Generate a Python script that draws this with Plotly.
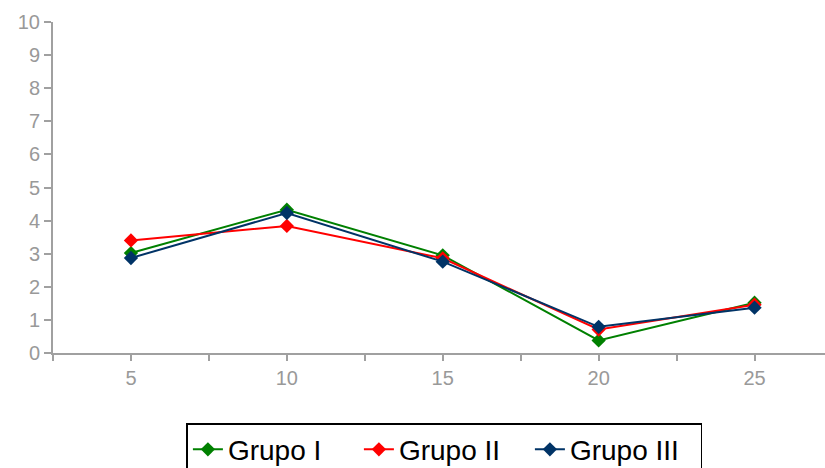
import plotly.graph_objects as go

categories = [5, 10, 15, 20, 25]
grupo_i = [3.02, 4.33, 2.95, 0.38, 1.52]
grupo_ii = [3.40, 3.84, 2.86, 0.71, 1.46]
grupo_iii = [2.87, 4.23, 2.76, 0.79, 1.37]
y_ticks = list(range(0, 11))

series = [
    ("Grupo I", grupo_i, "#008000"),
    ("Grupo II", grupo_ii, "#ff0000"),
    ("Grupo III", grupo_iii, "#003366"),
]

fig = go.Figure()
for name, vals, color in series:
    fig.add_trace(go.Scatter(
        x=categories, y=vals, name=name, mode="lines+markers",
        line=dict(color=color, width=2),
        marker=dict(symbol="diamond", size=11, color=color),
    ))

# ticks at each category and halfway between
x_tickvals = []
x_ticktext = []
for c in categories:
    x_tickvals += [c - 2.5, c]
    x_ticktext += ["", str(c)]
x_tickvals.append(categories[-1] + 2.5)
x_ticktext.append("")

grey = "#a0a0a0"
fig.update_layout(
    width=825, height=468,
    margin=dict(l=53, r=0, t=22, b=115, pad=0, autoexpand=False),
    plot_bgcolor="white", paper_bgcolor="white",
    font=dict(family="Liberation Sans, Arial, sans-serif"),
    xaxis=dict(
        range=[2.5, 27.26], tickvals=x_tickvals, ticktext=x_ticktext,
        showgrid=False, zeroline=False, showline=True, linecolor=grey, linewidth=2,
        ticks="outside", ticklen=6, tickwidth=1.5, tickcolor=grey,
        tickfont=dict(size=20, color="#999999"), automargin=False,
    ),
    yaxis=dict(
        range=[0, 10], tickvals=y_ticks,
        showgrid=False, zeroline=False, showline=True, linecolor=grey, linewidth=2,
        ticks="outside", ticklen=7, tickwidth=1.5, tickcolor=grey,
        tickfont=dict(size=20, color="#999999"), automargin=False,
    ),
    legend=dict(
        orientation="h", x=0.507, xanchor="center", y=-0.212, yanchor="top",
        bordercolor="black", borderwidth=1.5,
        font=dict(size=28, color="black"),
        entrywidth=126, tracegroupgap=0,
    ),
    showlegend=True,
)

fig.write_html(
    "out.html",
    config={"displayModeBar": False},
    post_script="document.body.style.margin='0';document.body.style.overflow='hidden';",
)
